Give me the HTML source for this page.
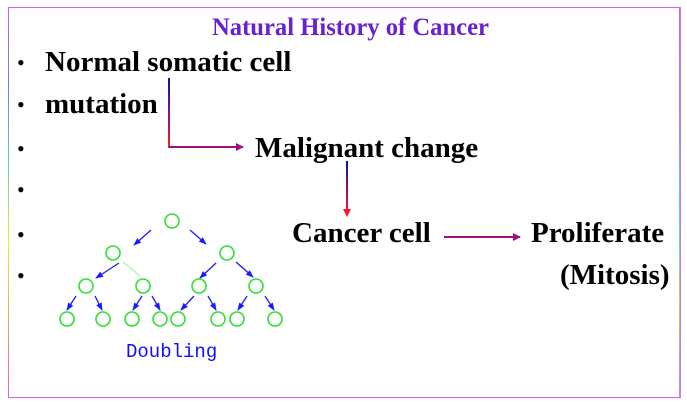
<!DOCTYPE html>
<html><head><meta charset="utf-8"><style>
body{margin:0;width:687px;height:404px;background:#fff;overflow:hidden;position:relative;font-family:"Liberation Serif",serif}
.t{position:absolute;font-weight:bold;font-size:29px;color:#000;white-space:nowrap;line-height:1}
.b{position:absolute;left:17px;font-size:22px;line-height:1}
</style></head><body>
<div style="position:absolute;left:8px;top:7px;width:671px;height:389px;border:1px solid #d060e0;border-left-color:#80a0f0;border-right-color:#c080f0"></div>
<div style="position:absolute;left:8px;top:7px;width:1px;height:390px;background:linear-gradient(#d060e0,#6080ff,#60d0a0,#e0f040,#f0a060,#e060d0)"></div>
<div style="position:absolute;left:679px;top:7px;width:1px;height:390px;background:linear-gradient(#d060e0,#a080ff,#60d0d0,#a0e060,#d080d0)"></div>
<div class="t" style="left:212px;top:15px;font-size:25px;color:#6a1fd0;transform:scaleX(0.985);transform-origin:left">Natural History of Cancer</div>
<div class="b" style="top:52px">•</div><div class="b" style="top:94px">•</div><div class="b" style="top:138px">•</div><div class="b" style="top:179px">•</div><div class="b" style="top:224px">•</div><div class="b" style="top:265px">•</div>
<div class="t" style="left:45px;top:48px">Normal somatic cell</div>
<div class="t" style="left:45px;top:90px">mutation</div>
<div class="t" style="left:255px;top:134px">Malignant change</div>
<div class="t" style="left:292px;top:219px">Cancer cell</div>
<div class="t" style="left:531px;top:219px">Proliferate</div>
<div class="t" style="left:560px;top:261px">(Mitosis)</div>
<div style="position:absolute;left:126px;top:341px;font-family:'Liberation Mono',monospace;font-size:19px;color:#1010ff">Doubling</div>
<svg width="687" height="404" style="position:absolute;left:0;top:0">
<defs>
<linearGradient id="g1" x1="0" y1="0" x2="0" y2="1"><stop offset="0" stop-color="#1010a0"/><stop offset="0.6" stop-color="#a01080"/><stop offset="1" stop-color="#ff2020"/></linearGradient>
<linearGradient id="g2" x1="0" y1="0" x2="0" y2="1"><stop offset="0" stop-color="#1010a0"/><stop offset="1" stop-color="#ff1030"/></linearGradient>
<marker id="m" markerWidth="8" markerHeight="8" refX="7" refY="4" orient="auto" markerUnits="userSpaceOnUse"><path d="M0,0 L8,4 L0,8z" fill="#a01080"/></marker>
<marker id="mb" markerWidth="8" markerHeight="8" refX="7" refY="4" orient="auto" markerUnits="userSpaceOnUse"><path d="M0,1 L8,4 L0,7z" fill="#1a1aff"/></marker>
</defs>
<rect x="168" y="78" width="2" height="70" fill="url(#g1)"/>
<line x1="169" y1="147" x2="243" y2="147" stroke="#a01080" stroke-width="2" marker-end="url(#m)"/>
<rect x="346" y="161" width="2" height="50" fill="url(#g2)"/>
<path d="M343,209 L351,209 L347,217z" fill="#ff1030"/>
<line x1="444" y1="237" x2="520" y2="237" stroke="#a01080" stroke-width="2" marker-end="url(#m)"/>
<g stroke="#1a1aff" stroke-width="1.3" marker-end="url(#mb)">
<line x1="151" y1="230" x2="134" y2="245"/><line x1="190" y1="230" x2="206" y2="244"/>
<line x1="119" y1="263" x2="96" y2="278"/><line x1="216" y1="263" x2="200" y2="278"/><line x1="236" y1="262" x2="253" y2="277"/>
<line x1="76" y1="296" x2="67" y2="310"/><line x1="95" y1="296" x2="102" y2="310"/>
<line x1="142" y1="296" x2="133" y2="310"/><line x1="152" y1="296" x2="160" y2="310"/>
<line x1="194" y1="296" x2="181" y2="310"/><line x1="208" y1="296" x2="216" y2="310"/>
<line x1="247" y1="296" x2="238" y2="310"/><line x1="265" y1="296" x2="274" y2="310"/>
</g>
<line x1="123" y1="262" x2="140" y2="276" stroke="#b0f0b0" stroke-width="1.3"/>
<g fill="none" stroke="#30e030" stroke-width="1.6">
<circle cx="172" cy="221" r="7"/>
<circle cx="113" cy="253" r="7"/><circle cx="227" cy="253" r="7"/>
<circle cx="86" cy="286" r="7"/><circle cx="143" cy="286" r="7"/><circle cx="199" cy="286" r="7"/><circle cx="256" cy="286" r="7"/>
<circle cx="67" cy="319" r="7"/><circle cx="103" cy="319" r="7"/><circle cx="132" cy="319" r="7"/><circle cx="160" cy="319" r="7"/><circle cx="178" cy="319" r="7"/><circle cx="218" cy="319" r="7"/><circle cx="237" cy="319" r="7"/><circle cx="275" cy="319" r="7"/>
</g>
</svg>
</body></html>
